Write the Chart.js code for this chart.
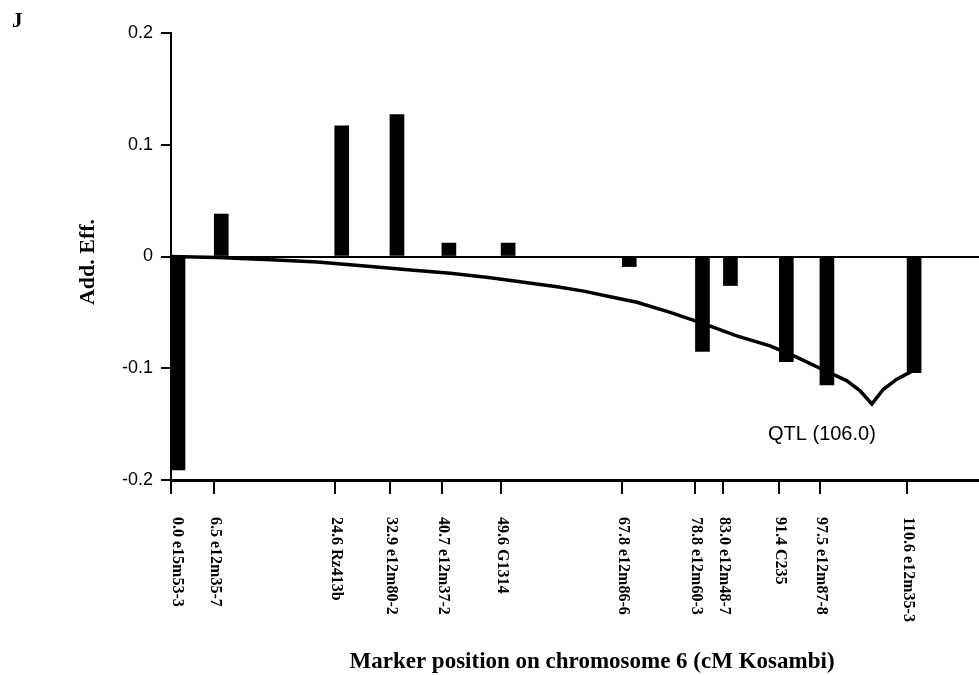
<!DOCTYPE html>
<html>
<head>
<meta charset="utf-8">
<title>Add. Eff. - chromosome 6</title>
<script src="https://cdn.jsdelivr.net/npm/chart.js@4/dist/chart.umd.min.js"></script>
<style>
  html, body { margin: 0; padding: 0; background: #fff; }
  #chart { display: block; }
</style>
</head>
<body>
<canvas id="chart" width="979" height="675"></canvas>
<script>
// ===== DATA =====
const markerPos = [0.0, 6.5, 24.6, 32.9, 40.7, 49.6, 67.8, 78.8, 83.0, 91.4, 97.5, 110.6];
const markerNames = ["e15m53-3", "e12m35-7", "Rz413b", "e12m80-2", "e12m37-2", "G1314",
  "e12m86-6", "e12m60-3", "e12m48-7", "C235", "e12m87-8", "e12m35-3"];
const addEffect = [-0.191, 0.038, 0.117, 0.127, 0.012, 0.012,
  -0.009, -0.085, -0.026, -0.094, -0.115, -0.104];

// curve of the QTL effect (cM, value)
const curvePos = [0, 7, 15, 22, 30, 36, 42, 48, 53, 58, 62, 66, 70, 75, 80, 85, 90, 94,
  97.5, 101.5, 103.5, 105.3, 107, 109, 111.2];
const curveVal = [0, -0.001, -0.003, -0.005, -0.009, -0.012, -0.015, -0.019, -0.023, -0.027,
  -0.031, -0.036, -0.041, -0.050, -0.060, -0.071, -0.080, -0.090,
  -0.100, -0.111, -0.120, -0.132, -0.119, -0.110, -0.103];

const yTicks = [0.2, 0.1, 0, -0.1, -0.2];
const qtlLabel = "QTL (106.0)";

const SERIF = '"Liberation Serif", "Times New Roman", serif';
const SANS = '"Liberation Sans", Arial, sans-serif';

// bars start at the marker position (left edge on the tick)
const shiftBars = {
  id: "shiftBars",
  afterDatasetsUpdate(chart) {
    chart.getDatasetMeta(0).data.forEach(bar => { bar.x += bar.width / 2; });
  }
};

// texts that Chart.js can't place the same way
const texts = {
  id: "texts",
  afterDraw(chart) {
    const { ctx, scales: { x, y } } = chart;
    ctx.save();
    ctx.fillStyle = "#000";

    ctx.font = "bold 21px " + SERIF;
    ctx.textAlign = "left";
    ctx.textBaseline = "alphabetic";
    ctx.fillText("J", 12, 27);

    // y title
    ctx.save();
    ctx.translate(94, 262);
    ctx.rotate(-Math.PI / 2);
    ctx.font = "bold 22px " + SERIF;
    ctx.textAlign = "center";
    ctx.fillText("Add. Eff.", 0, 0);
    ctx.restore();

    // marker labels, top to bottom
    ctx.font = "bold 16px " + SERIF;
    markerPos.forEach((p, i) => {
      const px = x.getPixelForValue(p);
      ctx.save();
      ctx.translate(px + (i === 0 ? 6 : 1), 517);
      ctx.rotate(Math.PI / 2);
      ctx.textAlign = "left";
      ctx.textBaseline = "middle";
      ctx.fillText(p.toFixed(1) + " " + markerNames[i], 0, 0);
      ctx.restore();
    });

    // x title
    ctx.font = "bold 23px " + SERIF;
    ctx.textAlign = "center";
    ctx.textBaseline = "alphabetic";
    ctx.fillText("Marker position on chromosome 6 (cM Kosambi)", 592, 668);

    // QTL label
    ctx.font = "20px " + SANS;
    ctx.fillText(qtlLabel, x.getPixelForValue(97.8), y.getPixelForValue(-0.164));

    ctx.restore();
  }
};

new Chart(document.getElementById("chart"), {
  type: "bar",
  data: {
    datasets: [
      {
        type: "bar",
        data: markerPos.map((p, i) => ({ x: p, y: addEffect[i] })),
        backgroundColor: "#000",
        borderWidth: 0,
        barThickness: 14,
        order: 2
      },
      {
        type: "line",
        data: curvePos.map((p, i) => ({ x: p, y: curveVal[i] })),
        borderColor: "#000",
        borderWidth: 3.5,
        pointRadius: 0,
        tension: 0,
        fill: false,
        order: 1
      }
    ]
  },
  options: {
    responsive: false,
    animation: false,
    events: [],
    layout: { padding: { top: 33, left: 0, right: 0, bottom: 0 } },
    plugins: {
      legend: { display: false },
      title: { display: false },
      tooltip: { enabled: false }
    },
    scales: {
      x: {
        type: "linear",
        min: 0,
        max: 121.4,
        offset: false,
        afterBuildTicks: scale => { scale.ticks = markerPos.map(v => ({ value: v })); },
        afterFit: scale => { scale.height = 195; },
        ticks: { autoSkip: false, callback: () => "", font: { size: 1 } },
        grid: {
          offset: false,
          drawOnChartArea: false,
          drawTicks: true,
          tickLength: 14,
          color: "#000",
          lineWidth: 2
        },
        border: { display: true, color: "#000", width: 3 }
      },
      y: {
        min: -0.2,
        max: 0.2,
        afterBuildTicks: scale => { scale.ticks = yTicks.map(v => ({ value: v })); },
        afterFit: scale => { scale.width = 171; },
        ticks: {
          padding: 8,
          color: "#000",
          font: { family: SANS, size: 18 },
          callback: v => (v === 0 ? "0" : String(Math.round(v * 10) / 10))
        },
        grid: {
          drawTicks: true,
          tickLength: 10,
          tickColor: "#000",
          color: c => (c.tick && c.tick.value === 0 ? "#000" : "rgba(0,0,0,0)"),
          lineWidth: 2
        },
        border: { display: true, color: "#000", width: 2 }
      }
    }
  },
  plugins: [shiftBars, texts]
});
</script>
</body>
</html>
